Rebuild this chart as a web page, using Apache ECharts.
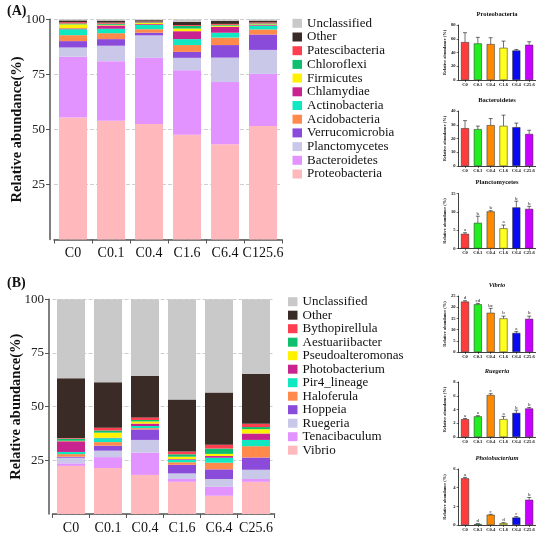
<!DOCTYPE html>
<html>
<head>
<meta charset="utf-8">
<script src="https://cdn.jsdelivr.net/npm/echarts@6/dist/echarts.min.js"></script>
<style>
  html, body { margin: 0; padding: 0; background: #fff; }
  #chart { width: 550px; height: 541px; }
</style>
</head>
<body>
<div id="chart"></div>
<script>
(function () {
  var serif = '"Liberation Serif", "Times New Roman", serif';

  // ---- panel A : phyla ----
  var sitesA = ['C0', 'C0.1', 'C0.4', 'C1.6', 'C6.4', 'C125.6'];
  var proteobacteria = [55.4, 53.9, 52.5, 47.6, 43.3, 51.6];
  var bacteroidetes = [27.6, 27.1, 30.0, 29.3, 28.2, 23.6];
  var planctomycetes = [4.2, 7.0, 10.2, 5.6, 11.1, 10.9];
  var verrucomicrobia = [2.9, 3.0, 1.2, 2.7, 5.7, 7.0];
  var acidobacteria = [2.7, 2.7, 1.6, 3.1, 3.4, 2.3];
  var actinobacteria = [2.7, 2.0, 1.9, 2.7, 2.2, 1.7];
  var chlamydiae = [0.4, 1.5, 0.4, 3.6, 2.7, 0.3];
  var firmicutes = [1.8, 0.3, 0.5, 1.2, 0.5, 0.3];
  var chloroflexi = [0.4, 0.5, 0.3, 1.2, 0.4, 0.4];
  var patescibacteria = [0.6, 0.5, 0.4, 0.4, 0.4, 0.5];
  var otherA = [0.8, 0.9, 0.6, 1.5, 1.4, 0.8];
  var unclassifiedA = [0.5, 0.6, 0.4, 1.1, 0.7, 0.6];

  // ---- panel B : genera ----
  var sitesB = ['C0', 'C0.1', 'C0.4', 'C1.6', 'C6.4', 'C25.6'];
  var vibrio = [22.4, 21.4, 18.2, 15.0, 8.5, 15.0];
  var tenacibaculum = [1.2, 5.1, 10.4, 1.3, 4.2, 1.3];
  var ruegeria = [2.6, 3.0, 5.9, 2.6, 3.6, 4.3];
  var hoppeia = [0.5, 2.3, 4.9, 4.0, 4.5, 5.7];
  var haloferula = [1.2, 1.7, 0.6, 1.2, 3.1, 5.3];
  var pir4 = [1.0, 1.8, 1.0, 1.2, 2.3, 2.9];
  var photobacterium = [5.0, 0.2, 1.1, 0.3, 0.8, 3.0];
  var pseudoalteromonas = [0.2, 2.4, 1.0, 1.1, 1.0, 2.0];
  var aestuariibacter = [1.0, 1.0, 0.7, 1.1, 2.5, 1.0];
  var bythopirellula = [0.3, 1.3, 1.2, 1.3, 1.8, 1.5];
  var otherB = [27.8, 21.2, 19.4, 24.2, 24.3, 23.2];
  var unclassifiedB = [36.8, 38.6, 35.6, 46.7, 43.4, 34.8];

  // bottom -> top
  var namesA = ['Proteobacteria', 'Bacteroidetes', 'Planctomycetes', 'Verrucomicrobia', 'Acidobacteria',
    'Actinobacteria', 'Chlamydiae', 'Firmicutes', 'Chloroflexi', 'Patescibacteria', 'Other', 'Unclassified'];
  var valuesA = [proteobacteria, bacteroidetes, planctomycetes, verrucomicrobia, acidobacteria,
    actinobacteria, chlamydiae, firmicutes, chloroflexi, patescibacteria, otherA, unclassifiedA];
  var namesB = ['Vibrio', 'Tenacibaculum', 'Ruegeria', 'Hoppeia', 'Haloferula', 'Pir4_lineage',
    'Photobacterium', 'Pseudoalteromonas', 'Aestuariibacter', 'Bythopirellula', 'Other', 'Unclassified'];
  var valuesB = [vibrio, tenacibaculum, ruegeria, hoppeia, haloferula, pir4,
    photobacterium, pseudoalteromonas, aestuariibacter, bythopirellula, otherB, unclassifiedB];
  var stackColors = ['#FFB9BC', '#E393FF', '#C9C8E8', '#8A4BDB', '#FF8A4C', '#0FE8C0',
    '#C8238F', '#FFF200', '#0DBF6E', '#FF3F4F', '#3B2B27', '#C9C9C9'];

  // ---- small panels ----
  var smallSites = ['C0', 'C0.1', 'C0.4', 'C1.6', 'C6.4', 'C25.6'];
  var smallColors = ['#FF3B3B', '#22EE22', '#FF8A00', '#FFFF22', '#0A0AF0', '#C800FF'];
  var proteoMean = [55.1, 53.2, 52.2, 46.8, 42.9, 51.2];
  var proteoTop = [68.8, 62.0, 61.5, 56.6, 44.4, 55.6];
  var bactMean = [27.5, 26.8, 29.7, 29.2, 28.2, 23.3];
  var bactTop = [33.0, 29.0, 34.5, 37.0, 31.2, 26.0];
  var planctoMean = [4.0, 7.0, 10.1, 5.5, 11.2, 10.8];
  var planctoTop = [4.3, 8.8, 10.3, 6.4, 12.9, 11.5];
  var planctoLetters = ['a', 'b', 'b', 'a', 'b', 'b'];
  var vibrioMean = [22.5, 21.3, 17.5, 15.0, 8.5, 14.8];
  var vibrioTop = [22.9, 21.7, 19.5, 16.0, 9.1, 16.0];
  var vibrioLetters = ['d', 'cd', 'bc', 'b', 'a', 'b'];
  var ruegMean = [2.6, 3.0, 6.1, 2.6, 3.5, 4.15];
  var ruegTop = [2.7, 3.1, 6.3, 3.0, 3.9, 4.3];
  var ruegLetters = ['a', 'a', 'c', 'a', 'b', 'b'];
  var photoMean = [5.0, 0.1, 1.1, 0.2, 0.8, 2.7];
  var photoTop = [5.1, 0.15, 1.15, 0.25, 0.9, 2.95];
  var photoLetters = ['a', 'd', 'c', 'd', 'c', 'b'];

  var grids = [];
  var xAxes = [];
  var yAxes = [];
  var series = [];
  var titles = [];

  function mainPanel(idx, grid, sites, names, values, offset, stack) {
    grids.push(grid);
    xAxes.push({
      gridIndex: idx, type: 'category', data: sites,
      axisLine: { lineStyle: { color: '#555', width: 1.5 } },
      axisTick: { show: true, length: 4, lineStyle: { color: '#555' } },
      axisLabel: { interval: 0, fontFamily: serif, fontSize: 14, color: '#111', margin: 7 }
    });
    yAxes.push({
      gridIndex: idx, type: 'value', min: 0, max: 100, interval: 25, offset: offset,
      name: 'Relative abundance(%)', nameLocation: 'middle', nameGap: 25, nameMoveOverlap: false,
      nameTextStyle: { fontFamily: serif, fontWeight: 'bold', fontSize: 14.5, color: '#111' },
      axisLine: { show: true, lineStyle: { color: '#555', width: 1.5 } },
      axisTick: { show: true, length: 4, lineStyle: { color: '#555' } },
      axisLabel: { showMinLabel: false, fontFamily: serif, fontSize: 13, color: '#222', margin: 5 },
      splitLine: { show: true, lineStyle: { type: 'dashed', color: '#cfcfcf' } }
    });
    names.forEach(function (n, i) {
      series.push({
        name: n, type: 'bar', stack: stack, xAxisIndex: idx, yAxisIndex: idx,
        barWidth: 28, data: values[i], itemStyle: { color: stackColors[i] },
        emphasis: { disabled: true }
      });
    });
  }

  mainPanel(0, { left: 54, top: 19.3, width: 228, height: 220.2 }, sitesA, namesA, valuesA, 4, 'A');
  mainPanel(1, { left: 52.5, top: 299.3, width: 222, height: 214.7 }, sitesB, namesB, valuesB, 3.5, 'B');

  function smallPanel(idx, title, italic, top, height, max, step, means, tops, letters) {
    grids.push({ left: 458.6, top: top, width: 77, height: height });
    titles.push({
      text: title, left: 497, top: top - 14.5, textAlign: 'center', padding: 0,
      textStyle: { fontFamily: serif, fontSize: 6.5, fontWeight: 'bold', fontStyle: italic ? 'italic' : 'normal', color: '#111' }
    });
    xAxes.push({
      gridIndex: idx, type: 'category', data: smallSites,
      axisLine: { lineStyle: { color: '#111', width: 0.8 } },
      axisTick: { show: true, alignWithLabel: true, length: 2, lineStyle: { color: '#111', width: 0.6 } },
      axisLabel: { interval: 0, fontFamily: serif, fontSize: 4.6, fontWeight: 'bold', color: '#111', margin: 2 }
    });
    yAxes.push({
      gridIndex: idx, type: 'value', min: 0, max: max, interval: step,
      name: 'Relative abundance (%)', nameLocation: 'middle', nameGap: 11.5, nameMoveOverlap: false,
      nameTextStyle: { fontFamily: serif, fontSize: 4.4, fontWeight: 'bold', color: '#111' },
      axisLine: { show: true, lineStyle: { color: '#111', width: 0.8 } },
      axisTick: { show: true, length: 2, lineStyle: { color: '#111', width: 0.6 } },
      axisLabel: { fontFamily: serif, fontSize: 4.6, fontWeight: 'bold', color: '#111', margin: 3 },
      splitLine: { show: false }
    });
    series.push({
      type: 'bar', xAxisIndex: idx, yAxisIndex: idx, barWidth: 8,
      data: means.map(function (v, i) {
        return { value: v, itemStyle: { color: smallColors[i], borderColor: '#222', borderWidth: 0.5 } };
      }),
      emphasis: { disabled: true }
    });
    series.push({
      type: 'custom', xAxisIndex: idx, yAxisIndex: idx, z: 5,
      data: means.map(function (v, i) { return [i, v, tops[i]]; }),
      renderItem: function (params, api) {
        var b = api.coord([api.value(0), api.value(1)]);
        var t = api.coord([api.value(0), api.value(2)]);
        var kids = [
          { type: 'line', shape: { x1: b[0], y1: b[1], x2: t[0], y2: t[1] }, style: { stroke: '#111', lineWidth: 0.6 } },
          { type: 'line', shape: { x1: t[0] - 2, y1: t[1], x2: t[0] + 2, y2: t[1] }, style: { stroke: '#111', lineWidth: 0.6 } }
        ];
        if (letters) {
          kids.push({
            type: 'text',
            style: { text: letters[params.dataIndex], x: t[0], y: t[1] - 0.5, align: 'center', verticalAlign: 'bottom',
              fontSize: 5, fontFamily: serif, fill: '#111' }
          });
        }
        return { type: 'group', children: kids };
      }
    });
  }

  smallPanel(2, 'Proteobacteria', false, 25, 55, 80, 20, proteoMean, proteoTop, null);
  smallPanel(3, 'Bacteroidetes', false, 111, 55, 40, 10, bactMean, bactTop, null);
  smallPanel(4, 'Planctomycetes', false, 193.5, 55, 15, 5, planctoMean, planctoTop, planctoLetters);
  smallPanel(5, 'Vibrio', true, 296, 56, 25, 5, vibrioMean, vibrioTop, vibrioLetters);
  smallPanel(6, 'Ruegeria', true, 382, 55, 8, 2, ruegMean, ruegTop, ruegLetters);
  smallPanel(7, 'Photobacterium', true, 469, 56, 6, 2, photoMean, photoTop, photoLetters);

  titles.push({ text: '(A)', left: 7, top: 4, padding: 0, textStyle: { fontFamily: serif, fontSize: 14, fontWeight: 'bold', color: '#111' } });
  titles.push({ text: '(B)', left: 7, top: 276, padding: 0, textStyle: { fontFamily: serif, fontSize: 14, fontWeight: 'bold', color: '#111' } });

  var legendText = { fontFamily: serif, fontSize: 13, color: '#111' };

  var chart = echarts.init(document.getElementById('chart'), null, { renderer: 'canvas' });
  chart.setOption({
    animation: false,
    backgroundColor: '#fff',
    title: titles,
    legend: [
      { orient: 'vertical', left: 292.5, top: 16.8, padding: 0, itemWidth: 9.5, itemHeight: 9, itemGap: 0.7, icon: 'rect',
        selectedMode: false, data: namesA.slice().reverse(), textStyle: legendText },
      { orient: 'vertical', left: 288, top: 295.2, padding: 0, itemWidth: 9.5, itemHeight: 9, itemGap: 0.5, icon: 'rect',
        selectedMode: false, data: namesB.slice().reverse(), textStyle: legendText }
    ],
    grid: grids,
    xAxis: xAxes,
    yAxis: yAxes,
    series: series
  });
})();
</script>
</body>
</html>
